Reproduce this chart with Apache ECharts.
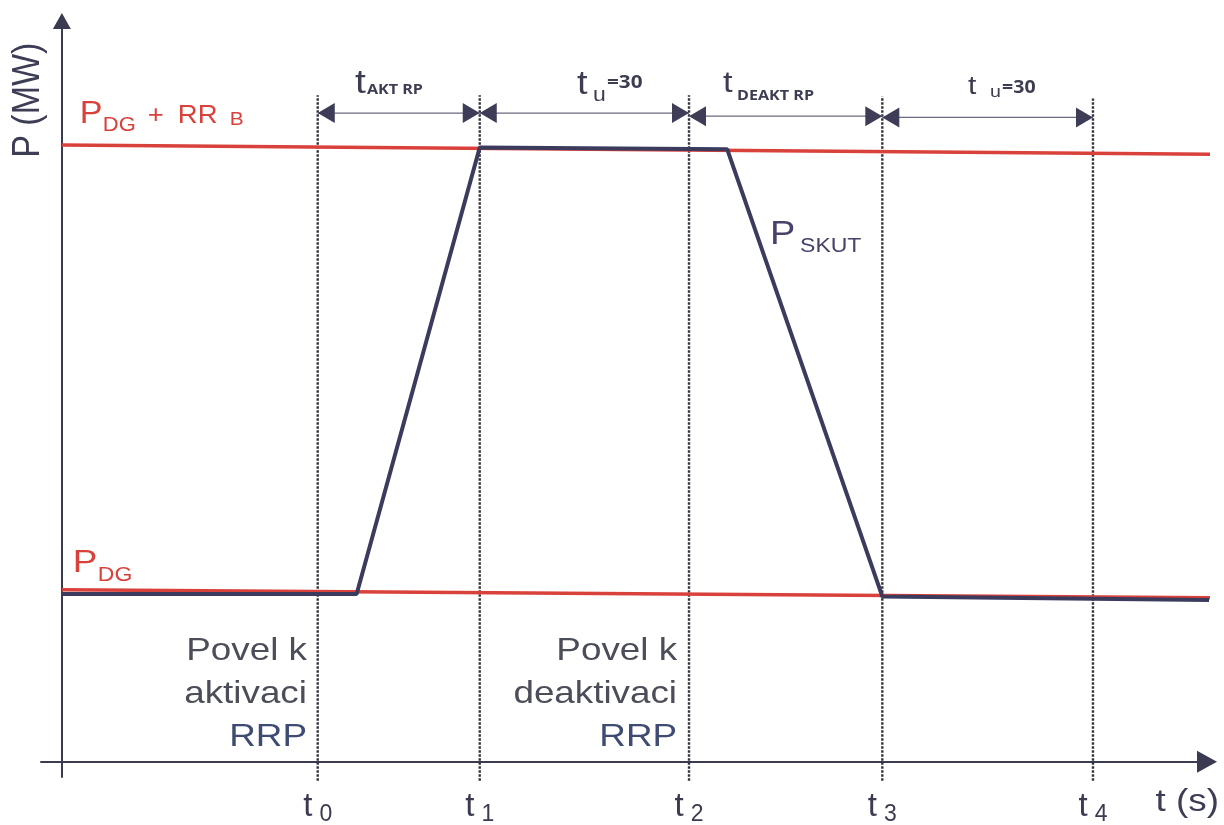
<!DOCTYPE html>
<html>
<head>
<meta charset="utf-8">
<title>Aktivace RRP</title>
<script src="https://cdn.jsdelivr.net/npm/echarts@6/dist/echarts.min.js"></script>
<style>
  html, body { margin: 0; padding: 0; background: #fff; }
  #chart { width: 1224px; height: 825px; }
</style>
</head>
<body>
<div id="chart"></div>
<script>
// time in s, power in % of (P_DG + RR_B)
const tickTimes = [36.8, 60.1, 90.2, 118.0, 148.3];
const tickSubs = ['0', '1', '2', '3', '4'];

const pdgPlusRRB = [[0, 100.4], [166.6, 98.9]];
const pdg = [[0, 28.0], [165.9, 26.7]];
const pSkut = [[0, 27.3], [42.4, 27.3], [60.1, 100.0], [95.7, 99.7], [118.0, 26.9], [165.9, 26.3]];

// dimension arrows: [from, to, level]
const spans = [[36.8, 60.1, 105.6], [60.1, 90.2, 105.6], [90.2, 118.0, 105.1], [118.0, 148.3, 104.9]];
// dotted guides
const guideBottom = -3.1;
const guideTop = [108.5, 108.5, 108.5, 108.3, 108.0];

const FONT = "'Liberation Sans', Arial, sans-serif";
const BOLD = "'Open Sans', sans-serif";
const STRETCH = 1.15;

const kinds = {
  red: { fill: '#d9413b', family: FONT, weight: 'normal' },
  dim: { fill: '#3d3d52', family: FONT, weight: 'normal' },
  dimBold: { fill: '#3d3d52', family: BOLD, weight: 'bold' },
  skut: { fill: '#4a4068', family: FONT, weight: 'normal' },
  cmd: { fill: '#4b4d58', family: FONT, weight: 'normal' },
  rrp: { fill: '#3e4b72', family: FONT, weight: 'normal' },
  axis: { fill: '#3d3d55', family: FONT, weight: 'normal' }
};

// text notes: anchor in data units, parts [text, size, dx, dy, kind]
const notes = [
  { at: [-4.9, 107.7], rotate: true, parts: [['P (MW)', 34, 0, 0, 'axis']] },
  { at: [2.59, 103.8], stretch: 1.1, parts: [['P', 31, 0, 0, 'red'], ['DG', 20, 23, 8, 'red'], ['+', 25, 68, 0, 'red'], ['RR', 25, 98, 0, 'red'], ['B', 19, 150, 1, 'red']] },
  { at: [1.58, 30.75], parts: [['P', 32, 0, 0, 'red'], ['DG', 20, 25, 9, 'red']] },
  { at: [42.15, 108.7], parts: [['t', 34, 0, 0, 'dim'], ['AKT RP', 14, 12, 0, 'dimBold']] },
  { at: [74.09, 108.55], parts: [['t', 33, 0, 0, 'dim'], ['u', 20, 16, 7, 'dim'], ['=30', 18, 30, -7, 'dimBold']] },
  { at: [95.1, 108.85], parts: [['t', 30, 0, 0, 'dim'], ['DEAKT RP', 14, 14, 7, 'dimBold']] },
  { at: [130.34, 108.5], parts: [['t', 26, 0, 0, 'dim'], ['u', 17, 22, 2, 'dim'], ['=30', 17, 34, -2, 'dimBold']] },
  { at: [101.86, 84.12], parts: [['P', 33, 0, 0, 'skut'], ['SKUT', 20, 30, 8, 'skut']] },
  { at: [35.25, 16.43], align: 'right', parts: [['Povel k', 32, 0, 0, 'cmd'], ['aktivaci', 32, 0, 43, 'cmd'], ['RRP', 32, 0, 86, 'rrp']] },
  { at: [88.48, 16.43], align: 'right', parts: [['Povel k', 32, 0, 0, 'cmd'], ['deaktivaci', 32, 0, 43, 'cmd'], ['RRP', 32, 0, 86, 'rrp']] },
  { at: [157.3, -8.14], parts: [['t (s)', 32, 0, 0, 'axis']] }
];

const axisColor = '#3a3a50';
const chart = echarts.init(document.getElementById('chart'));

function renderNote(params, api) {
  const n = notes[params.dataIndex];
  const p = api.coord(n.at);
  const stretch = n.stretch || STRETCH;
  return {
    type: 'group',
    children: n.parts.map(([text, size, dx, dy, kind]) => {
      const k = kinds[kind];
      const mid = (k.family === BOLD ? 0.285 : 0.31) * size;
      const el = {
        type: 'text',
        x: p[0] + dx,
        y: n.rotate ? p[1] : p[1] + dy - mid,
        style: {
          text: text,
          fill: k.fill,
          fontSize: size,
          fontFamily: k.family,
          fontWeight: k.weight,
          align: n.rotate ? 'center' : (n.align || 'left'),
          verticalAlign: 'middle'
        }
      };
      if (n.rotate) {
        el.rotation = Math.PI / 2;
        el.scaleY = stretch;
      } else {
        el.scaleX = stretch;
      }
      return el;
    })
  };
}

function renderGuide(params, api) {
  const a = api.coord([api.value(0), api.value(1)]);
  const b = api.coord([api.value(0), api.value(2)]);
  return {
    type: 'line',
    shape: { x1: a[0], y1: a[1], x2: b[0], y2: b[1] },
    style: { stroke: '#33333f', lineWidth: 2.4, lineDash: [2.5, 1.5] }
  };
}

function renderSpan(params, api) {
  const a = api.coord([api.value(0), api.value(2)]);
  const b = api.coord([api.value(1), api.value(2)]);
  const L = 17, H = 10;
  return {
    type: 'group',
    children: [
      { type: 'line', shape: { x1: a[0], y1: a[1], x2: b[0], y2: b[1] },
        style: { stroke: '#6a6a7e', lineWidth: 1.3 } },
      { type: 'polygon', shape: { points: [[a[0], a[1]], [a[0] + L, a[1] - H], [a[0] + L, a[1] + H]] },
        style: { fill: '#3d3d58' } },
      { type: 'polygon', shape: { points: [[b[0], b[1]], [b[0] - L, b[1] - H], [b[0] - L, b[1] + H]] },
        style: { fill: '#3d3d58' } }
    ]
  };
}

chart.setOption({
  animation: false,
  backgroundColor: '#ffffff',
  grid: { left: 41, right: 17, top: 21, bottom: 48, outerBoundsMode: 'none', containLabel: false },
  xAxis: {
    type: 'value', min: -3, max: 164.7,
    axisLine: { onZero: true, symbol: ['none', 'triangle'], symbolSize: [22, 20],
      lineStyle: { color: axisColor, width: 2 } },
    axisTick: { show: false },
    splitLine: { show: false },
    axisLabel: {
      customValues: tickTimes,
      margin: 13,
      formatter: (v) => {
        let i = 0;
        tickTimes.forEach((t, j) => { if (Math.abs(t - v) < Math.abs(tickTimes[i] - v)) i = j; });
        return '{t|t}{s|' + tickSubs[i] + '}';
      },
      rich: {
        t: { fontSize: 33, lineHeight: 36, verticalAlign: 'top', fontFamily: FONT, color: '#3a3a50' },
        s: { fontSize: 23, lineHeight: 23, padding: [30, 0, 0, 7], verticalAlign: 'bottom', fontFamily: FONT, color: '#3a3a50' }
      }
    }
  },
  yAxis: {
    type: 'value', min: -2.5, max: 120.6,
    axisLine: { show: true, onZero: true, symbol: ['none', 'triangle'], symbolSize: [18, 16],
      lineStyle: { color: axisColor, width: 2 } },
    axisTick: { show: false },
    axisLabel: { show: false },
    splitLine: { show: false }
  },
  series: [
    { type: 'custom', name: 'guides', renderItem: renderGuide, encode: { x: 0, y: [1, 2] },
      data: tickTimes.map((t, i) => [t, guideBottom, guideTop[i]]), silent: true, z: 1 },
    { type: 'line', name: 'P_DG + RR_B', data: pdgPlusRRB, showSymbol: false, clip: false, silent: true,
      lineStyle: { color: '#d9413b', width: 3.5 }, z: 2 },
    { type: 'line', name: 'P_DG', data: pdg, showSymbol: false, clip: false, silent: true,
      lineStyle: { color: '#d9413b', width: 3.5 }, z: 2 },
    { type: 'line', name: 'P_SKUT', data: pSkut, showSymbol: false, clip: false, silent: true,
      lineStyle: { color: '#3b3b5e', width: 4 }, z: 3 },
    { type: 'custom', name: 'spans', renderItem: renderSpan, encode: { x: [0, 1], y: 2 },
      data: spans, silent: true, z: 4 },
    { type: 'custom', name: 'notes', renderItem: renderNote, encode: { x: 0, y: 1 },
      data: notes.map(n => n.at), silent: true, z: 5 }
  ]
});
</script>
</body>
</html>
